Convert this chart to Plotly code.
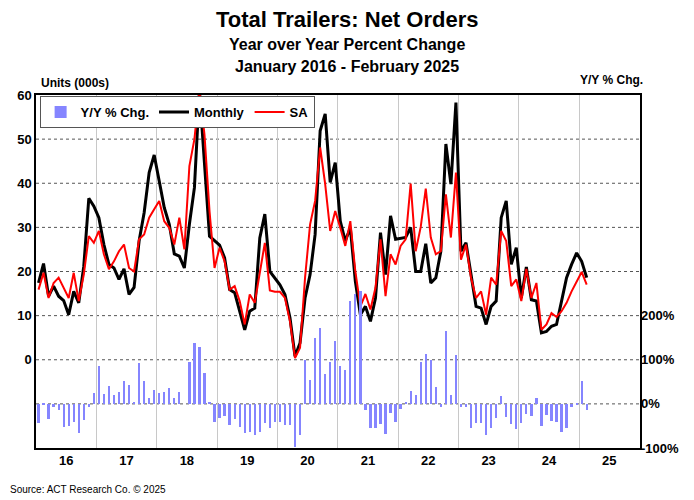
import plotly.graph_objects as go

years = ["16","17","18","19","20","21","22","23","24","25"]
monthly = [17.4,21.8,14.4,16.7,14.4,13.4,10.2,15.5,12.9,21.2,36.6,34.8,
           32.2,26.1,21.6,20.8,18.2,20.6,14.8,16.4,26.9,33.3,42.4,46.4,
           40.5,34.5,30.7,24.0,23.5,20.8,30.7,39.0,61.0,44.0,28.0,27.0,
           26.0,23.1,15.9,15.2,11.0,6.8,11.0,11.7,27.6,33.0,20.0,18.6,
           17.0,14.8,9.5,0.8,3.8,14.0,19.3,28.4,51.9,55.7,40.2,44.7,
           31.4,26.9,29.9,17.8,10.2,12.1,8.7,14.0,28.8,19.3,32.6,27.3,
           27.5,27.7,30.0,20.0,20.0,26.3,17.4,18.6,24.6,48.9,39.8,58.3,
           24.6,26.5,19.3,12.1,11.7,8.0,12.1,13.3,32.2,36.0,21.6,25.4,
           14.0,21.0,13.6,13.3,6.1,6.4,7.6,8.0,13.3,18.6,21.6,24.2,22.3,18.6]
sa = [15.9,19.7,14.0,17.4,18.6,16.3,14.0,19.7,13.3,19.3,28.0,26.5,
      29.2,23.9,20.5,22.3,24.6,26.1,20.8,20.0,27.3,28.4,32.2,34.1,
      36.0,31.4,29.9,26.1,32.2,25.0,43.9,50.0,61.0,51.0,33.7,20.8,
      25.4,22.3,15.9,16.7,13.3,8.0,14.8,12.9,19.3,26.5,15.7,15.4,
      15.4,14.0,8.7,0.4,2.7,18.6,30.7,36.0,48.1,39.8,29.2,33.7,
      29.9,25.8,31.4,20.0,12.1,14.9,11.4,16.3,27.3,14.4,23.9,21.6,
      25.8,27.3,39.9,24.6,30.1,38.8,27.7,23.9,24.6,37.5,27.7,42.4,
      22.7,26.1,18.6,14.0,15.5,10.2,18.6,17.0,29.2,26.9,16.7,18.2,
      13.3,20.6,14.0,17.4,6.8,8.0,10.6,9.7,11.0,12.9,15.5,17.8,19.9,17.0]
yoy = [-44,-2,-34,-8,-14,-52,-50,-40,-65,-36,-8,24,
       85,22,41,20,27,52,43,2,92,51,14,32,
       24,27,37,13,27,0,95,138,128,71,5,-42,
       -33,-28,-48,-35,-52,-67,-64,-70,-63,-44,-55,-40,
       -42,-48,-48,-97,-70,100,55,149,171,67,94,143,
       86,77,233,248,255,-14,-55,-55,-46,-69,-21,-40,
       -12,4,30,20,95,113,100,39,-6,166,20,111,
       -8,-6,-54,-44,-44,-70,-54,-31,17,-29,-46,-58,
       -44,-23,-27,14,-49,-25,-39,-40,-63,-55,-6,-2,51,-14]

x = list(range(len(monthly)))
F = "Liberation Sans, Arial, sans-serif"
OFF = 8  # page body margin offset

fig = go.Figure()
fig.add_trace(go.Bar(x=x, y=yoy, name="Y/Y % Chg.", yaxis="y2",
                     marker=dict(color="#8585ff", line=dict(width=0)), width=0.45))
fig.add_trace(go.Scatter(x=x, y=monthly, name="Monthly", mode="lines",
                         line=dict(color="black", width=3)))
fig.add_trace(go.Scatter(x=x, y=sa, name="SA", mode="lines",
                         line=dict(color="#ff0000", width=2)))

fig.update_layout(
    width=694, height=500, paper_bgcolor="white", plot_bgcolor="white",
    margin=dict(l=36-OFF, r=54+OFF, t=95-OFF, b=52+OFF, autoexpand=False),
    font=dict(family=F, size=12, color="black"),
    showlegend=True,
    legend=dict(orientation="h", x=0.006, y=0.997, xanchor="left", yanchor="top",
                bordercolor="#555", borderwidth=1, bgcolor="white", itemwidth=30,
                font=dict(family=F, size=13, weight="bold"), traceorder="normal",
                tracegroupgap=0),
    bargap=0,
    xaxis=dict(range=[-0.5, 119.6], tickvals=[12*k+5.5 for k in range(10)], ticktext=years,
               showgrid=False, ticks="", zeroline=False, automargin=False,
               tickfont=dict(family=F, size=13, weight="bold"),
               minor=dict(tick0=-0.5, dtick=12, showgrid=True, gridcolor="#c8c8c8", gridwidth=1, ticks=""),
               showline=True, linecolor="black", linewidth=1.5, mirror=True),
    yaxis=dict(range=[-20, 60], tickvals=[0,10,20,30,40,50,60],
               showgrid=False, zeroline=False, ticks="", automargin=False,
               tickfont=dict(family=F, size=13, weight="bold"),
               showline=True, linecolor="black", linewidth=1.5, mirror=True),
    yaxis2=dict(range=[-100, 700], overlaying="y", side="right", automargin=False,
                tickvals=[-100,0,100,200], ticktext=["-100%","0%","100%","200%"],
                showgrid=False, zeroline=False, ticks="",
                tickfont=dict(family=F, size=13, weight="bold")),
)
for v in [-10,0,10,20,30,40,50]:
    fig.add_shape(type="line", xref="paper", x0=0, x1=1, yref="y", y0=v, y1=v,
                  line=dict(color="#555", width=1, dash="dot"), layer="below")

def py(pix):
    return (448 - pix) / 353

ann = [
    dict(text="<b>Total Trailers: Net Orders</b>", y=20, size=22),
    dict(text="<b>Year over Year Percent Change</b>", y=45, size=16),
    dict(text="<b>January 2016 - February 2025</b>", y=66, size=16),
]
for a in ann:
    fig.add_annotation(text=a["text"], xref="paper", yref="paper", x=(347-36)/604,
                       y=py(a["y"]), xanchor="center", yanchor="middle",
                       showarrow=False, font=dict(family=F, size=a["size"]))
fig.add_annotation(text="<b>Units (000s)</b>", xref="paper", yref="paper", x=0.005, y=py(83),
                   xanchor="left", yanchor="middle", showarrow=False, font=dict(family=F, size=12))
fig.add_annotation(text="<b>Y/Y % Chg.</b>", xref="paper", yref="paper", x=(645-36)/604, y=py(80),
                   xanchor="right", yanchor="middle", showarrow=False, font=dict(family=F, size=12))
fig.add_annotation(text="Source: ACT Research Co. © 2025", xref="paper", yref="paper",
                   x=(8-36)/604, y=py(489), xanchor="left", yanchor="middle", showarrow=False,
                   font=dict(family=F, size=10))

fig.write_html("out.html")
